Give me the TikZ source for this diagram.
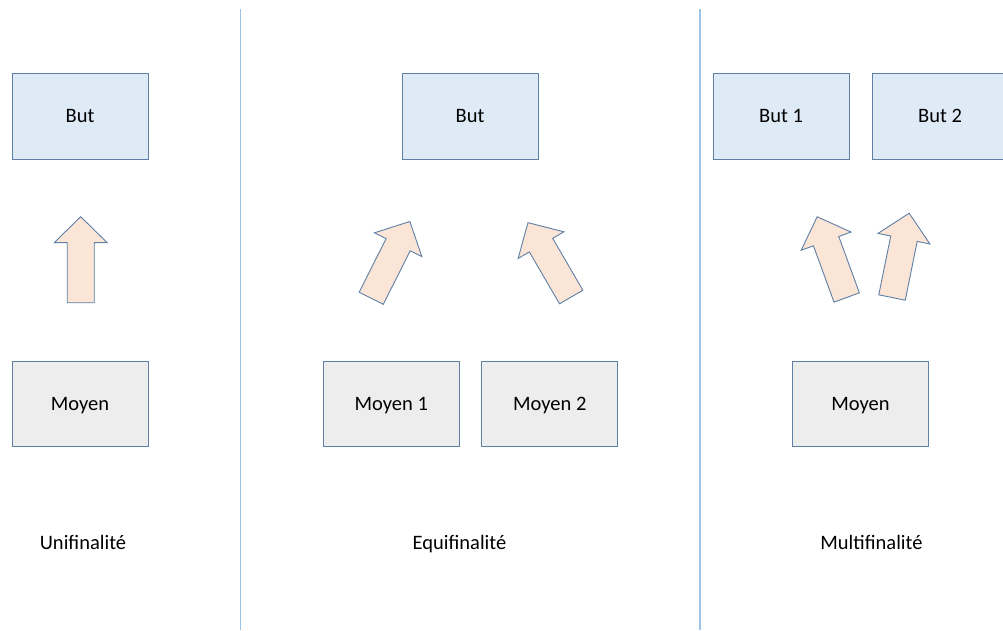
\documentclass[tikz,border=0pt]{standalone}
\usepackage{fontspec}
\setmainfont{Carlito}
\definecolor{butfill}{HTML}{DEEBF7}
\definecolor{boxline}{HTML}{5E7FA6}
\definecolor{moyfill}{HTML}{EDEDED}
\definecolor{arrfill}{HTML}{FBE5D6}
\definecolor{sepline}{HTML}{9DC3E6}
\tikzset{
  boxfont/.style={font=\fontsize{20.5}{24}\selectfont, text height=13.6pt, text depth=0pt},
  butbox/.style={draw=boxline, fill=butfill, line width=0.8pt, minimum width=136pt, minimum height=86pt, inner sep=0pt, boxfont},
  moybox/.style={draw=boxline, fill=moyfill, line width=0.8pt, minimum width=136pt, minimum height=84.5pt, inner sep=0pt, boxfont},
  lbl/.style={inner sep=0pt, anchor=base, font=\fontsize{20.5}{24}\selectfont},
  fatarrow/.style={draw=boxline, fill=arrfill, line width=0.9pt, line join=miter},
  sep/.style={draw=sepline, line width=1.4pt}
}
\newcommand{\fatarr}[3]{\draw[fatarrow, shift={(#1,#2)}, rotate=#3] (-13.5,0) -- (13.5,0) -- (13.5,60) -- (26.5,60) -- (0,86) -- (-26.5,60) -- (-13.5,60) -- cycle;}
\begin{document}
\begin{tikzpicture}[x=1pt,y=1pt]
\useasboundingbox (0,0) rectangle (1003,630);
% separators
\coordinate (s1a) at (240.7,621);
\coordinate (s1b) at (240.7,0);
\coordinate (s2a) at (700,621);
\coordinate (s2b) at (700,0);
\draw[sep] (s1a) -- (s1b);
\draw[sep] (s2a) -- (s2b);
% left panel
\node[butbox] (butL) at (80,514) {But};
\node[moybox] (moyL) at (80,226.25) {Moyen};
\fatarr{80.7}{327.3}{0}
\node[lbl] (uni) at (83,81) {Unifinalité};
% middle panel
\node[butbox] (butM) at (470,514) {But};
\node[moybox] (moy1) at (391.3,226.25) {Moyen 1};
\node[moybox] (moy2) at (549.8,226.25) {Moyen 2};
\fatarr{371.2}{331.7}{-26.7}
\fatarr{571.2}{333}{30.2}
\node[lbl] (equi) at (459.5,81) {Equifinalité};
% right panel
\node[butbox] (but1) at (781,514) {But 1};
\node[butbox] (but2) at (940,514) {But 2};
\node[moybox] (moyR) at (860.5,226.25) {Moyen};
\fatarr{846.7}{332.5}{20.1}
\fatarr{892}{332.5}{-11.5}
\node[lbl] (multi) at (871.5,81) {Multifinalité};
\end{tikzpicture}
\end{document}
